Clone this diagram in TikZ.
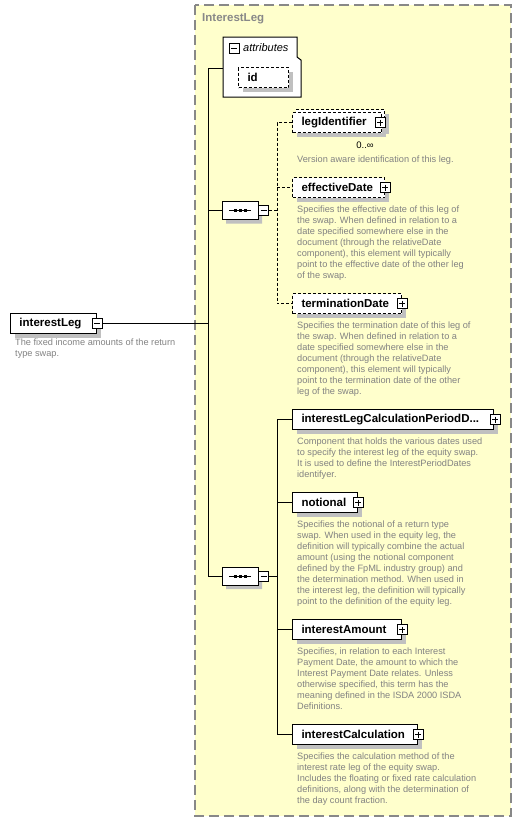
\documentclass[tikz,border=0pt]{standalone}
\usepackage{fontspec}
\setmainfont{Liberation Sans}
\usetikzlibrary{shapes.misc,shadows}
\definecolor{bgyellow}{RGB}{255,255,204}
\definecolor{framegray}{RGB}{136,136,136}
\definecolor{descgray}{RGB}{130,130,130}
\definecolor{shadowgray}{RGB}{192,192,192}
\tikzset{
  elem/.style={draw, fill=white, line width=1pt, anchor=north west, minimum height=20pt,
    inner xsep=9pt, inner ysep=0pt, align=left,
    font=\fontsize{11.5}{12}\selectfont\bfseries,
    general shadow={fill=shadowgray, shadow xshift=4pt, shadow yshift=-4pt}},
  optelem/.style={elem, dash pattern=on 3pt off 2pt},
  pmbox/.style={draw, fill=white, line width=1pt, minimum size=10pt, inner sep=0pt},
  plusbox/.style={pmbox, path picture={
    \draw[line width=1pt] ([xshift=2pt]path picture bounding box.west) -- ([xshift=-2pt]path picture bounding box.east);
    \draw[line width=1pt] ([yshift=-2pt]path picture bounding box.north) -- ([yshift=2pt]path picture bounding box.south);}},
  minusbox/.style={pmbox, path picture={
    \draw[line width=1pt] ([xshift=2pt]path picture bounding box.west) -- ([xshift=-2pt]path picture bounding box.east);}},
  seqbox/.style={draw, fill=white, line width=1pt, chamfered rectangle, chamfered rectangle sep=5pt,
    minimum width=36pt, minimum height=18pt, inner sep=0pt,
    general shadow={fill=shadowgray, shadow xshift=4pt, shadow yshift=-4pt}},
  desc/.style={anchor=north west, inner sep=0pt, align=left, text=descgray,
    font=\fontsize{9.2}{11}\selectfont},
  conn/.style={line width=1pt},
  optconn/.style={line width=1pt, dash pattern=on 3pt off 2pt},
}
\begin{document}
\begin{tikzpicture}[x=1pt,y=-1pt]
\useasboundingbox (0,0) rectangle (522,823);

% complex type frame
\draw[fill=bgyellow, draw=framegray, line width=1.3pt, dash pattern=on 10pt off 5pt] (195,5) rectangle (511,816);
\node[anchor=west, inner sep=0pt, text=framegray, font=\fontsize{11.5}{12}\selectfont\bfseries] (title) at (202,19) {InterestLeg};

% attributes
\draw[fill=white, line width=1pt] (223,37) -- (297,37) -- (297,57) -- (301,60) -- (301,97) -- (223,97) -- cycle;
\node[minusbox] (attrm) at (234,48) {};
\node[anchor=west, inner sep=0pt, font=\fontsize{11}{12}\selectfont\itshape] (attrlabel) at (243,48) {attributes};
\node[optelem, text width=32pt] (id) at (238,67) {id};
\coordinate (attrw) at (223,68);

% root element
\node[elem, text width=68pt] (il) at (10,313) {interestLeg};
\node[minusbox] (ilm) at (il.east) {};
\node[desc] (ildesc) at (15,338.7) {The fixed income amounts of the return\\type swap.};

% sequences
\node[seqbox] (s1) at (240,210.5) {};
\node[minusbox] (s1m) at ([xshift=5pt]s1.east) {};
\node[seqbox] (s2) at (240,576) {};
\node[minusbox] (s2m) at ([xshift=5pt]s2.east) {};
\foreach \s in {s1,s2}{
  \draw[line width=1pt] (\s.center) ++(-11,0) -- ++(22,0);
  \foreach \dx in {-5,0,5}{
    \fill (\s.center) ++(\dx-1.5,-1.5) rectangle ++(3,3);
  }
}

% first sequence children
\node[optelem, text width=71pt] (legback) at (295,109) {};
\node[optelem, text width=71pt] (leg) at (292,112) {legIdentifier};
\node[plusbox] (legp) at ([xshift=-2pt]leg.east) {};
\node[anchor=center, inner sep=0pt, font=\fontsize{9.5}{10}\selectfont] (legmult) at (365,145) {0..∞};
\node[desc] (legdesc) at (297,155.7) {Version aware identification of this leg.};

\node[optelem, text width=74pt] (eff) at (292,177) {effectiveDate};
\node[plusbox] (effp) at (eff.east) {};
\node[desc] (effdesc) at (297,205.2) {Specifies the effective date of this leg of\\the swap. When defined in relation to a\\date specified somewhere else in the\\document (through the relativeDate\\component), this element will typically\\point to the effective date of the other leg\\of the swap.};

\node[optelem, text width=91pt] (term) at (292,293) {terminationDate};
\node[plusbox] (termp) at (term.east) {};
\node[desc] (termdesc) at (297,321.4) {Specifies the termination date of this leg of\\the swap. When defined in relation to a\\date specified somewhere else in the\\document (through the relativeDate\\component), this element will typically\\point to the termination date of the other\\leg of the swap.};

% second sequence children
\node[elem, text width=183pt] (ilc) at (292,409) {interestLegCalculationPeriodD...};
\node[plusbox] (ilcp) at ([xshift=1pt]ilc.east) {};
\node[desc] (ilcdesc) at (297,437.4) {Component that holds the various dates used\\to specify the interest leg of the equity swap.\\It is used to define the InterestPeriodDates\\identifyer.};

\node[elem, text width=47pt] (not) at (292,492) {notional};
\node[plusbox] (notp) at (not.east) {};
\node[desc] (notdesc) at (297,520.7) {Specifies the notional of a return type\\swap. When used in the equity leg, the\\definition will typically combine the actual\\amount (using the notional component\\defined by the FpML industry group) and\\the determination method. When used in\\the interest leg, the definition will typically\\point to the definition of the equity leg.};

\node[elem, text width=91pt] (ia) at (292,619) {interestAmount};
\node[plusbox] (iap) at (ia.east) {};
\node[desc] (iadesc) at (297,647.4) {Specifies, in relation to each Interest\\Payment Date, the amount to which the\\Interest Payment Date relates. Unless\\otherwise specified, this term has the\\meaning defined in the ISDA 2000 ISDA\\Definitions.};

\node[elem, text width=107pt] (ic) at (292,724) {interestCalculation};
\node[plusbox] (icp) at (ic.east) {};
\node[desc] (icdesc) at (297,752.4) {Specifies the calculation method of the\\interest rate leg of the equity swap.\\Includes the floating or fixed rate calculation\\definitions, along with the determination of\\the day count fraction.};

% connectors
\coordinate (tx) at (208,0);
\coordinate (bx) at (277,0);
\draw[conn] (ilm.east) -- (ilm.east -| tx);
\draw[conn] (attrw) -- (attrw -| tx) -- (s2.west -| tx) -- (s2.west);
\draw[conn] (s1.west -| tx) -- (s1.west);

\draw[optconn] (s1m.east) -- (s1m.east -| bx);
\draw[optconn] (leg.west) -- (leg.west -| bx) -- (term.west -| bx) -- (term.west);
\draw[optconn] (eff.west -| bx) -- (eff.west);

\draw[conn] (s2m.east) -- (s2m.east -| bx);
\draw[conn] (ilc.west) -- (ilc.west -| bx) -- (ic.west -| bx) -- (ic.west);
\draw[conn] (not.west -| bx) -- (not.west);
\draw[conn] (ia.west -| bx) -- (ia.west);
\end{tikzpicture}
\end{document}
